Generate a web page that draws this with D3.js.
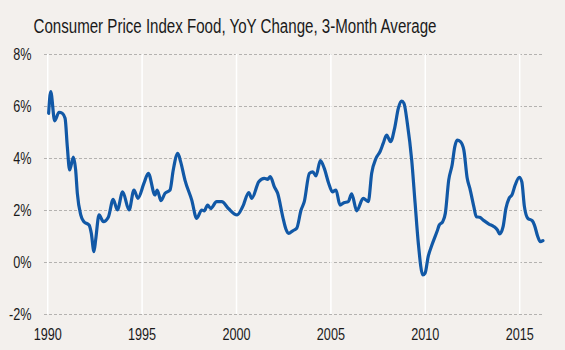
<!DOCTYPE html>
<html>
<head>
<meta charset="utf-8">
<script src="https://cdn.jsdelivr.net/npm/d3@7"></script>
<style>
    body { margin: 0; background: #f3f0ed; }
    svg { display: block; }
    text { font-family: "Liberation Sans Narrow", "Arial Narrow", "Liberation Sans", sans-serif; fill: #1a1a1a; }
</style>
</head>
<body>
<svg class="chart" width="565" height="350"></svg>
<script>
var titleText = 'Consumer Price Index Food, YoY Change, 3-Month Average';

// decimal year, YoY % change
var years = [
    1990.05, 1990.16, 1990.37, 1990.6, 1990.77, 1990.92, 1991.04, 1991.16, 1991.36, 1991.48,
    1991.57, 1991.75, 1991.92, 1992.19, 1992.31, 1992.45, 1992.54, 1992.72, 1992.95, 1993.21,
    1993.47, 1993.69, 1993.97, 1994.31, 1994.57, 1994.78, 1995.1, 1995.33, 1995.68, 1995.8,
    1996.0, 1996.21, 1996.48, 1996.65, 1996.89, 1997.04, 1997.27, 1997.63, 1997.89, 1998.16,
    1998.29, 1998.47, 1998.63, 1998.95, 1999.22, 1999.57, 2000.03, 2000.33, 2000.65, 2000.81,
    2001.18, 2001.47, 2001.65, 2001.79, 2002.0, 2002.18, 2002.45, 2002.62, 2002.76, 2002.98,
    2003.19, 2003.42, 2003.59, 2003.86, 2004.04, 2004.21, 2004.44, 2004.65, 2004.88, 2005.08,
    2005.27, 2005.48, 2005.69, 2005.92, 2006.1, 2006.37, 2006.71, 2006.98, 2007.16, 2007.39,
    2007.6, 2007.77, 2007.95, 2008.16, 2008.39, 2008.57, 2008.75, 2008.87, 2009.05, 2009.28,
    2009.46, 2009.63, 2009.87, 2009.99, 2010.15, 2010.35, 2010.62, 2010.74, 2010.92, 2011.06,
    2011.24, 2011.42, 2011.56, 2011.69, 2011.86, 2012.04, 2012.22, 2012.36, 2012.57, 2012.7,
    2012.88, 2013.11, 2013.37, 2013.64, 2013.82, 2013.94, 2014.12, 2014.27, 2014.44, 2014.59,
    2014.76, 2014.98, 2015.11, 2015.25, 2015.43, 2015.66, 2015.78, 2015.96, 2016.09, 2016.23
];
var values = [
    5.72, 6.55, 5.43, 5.76, 5.72, 5.53, 4.43, 3.54, 4.03, 3.54,
    2.64, 1.81, 1.55, 1.42, 1.1, 0.4, 0.85, 1.81, 1.55, 1.72,
    2.41, 2.0, 2.7, 2.0, 2.77, 2.45, 3.03, 3.41, 2.58, 2.77,
    2.36, 2.64, 2.77, 3.54, 4.18, 3.86, 3.15, 2.38, 1.68, 2.0,
    1.97, 2.19, 2.06, 2.32, 2.32, 2.06, 1.81, 2.13, 2.67, 2.45,
    3.09, 3.22, 3.18, 3.28, 2.9, 2.64, 1.74, 1.26, 1.1, 1.2,
    1.3, 2.0, 2.32, 3.41, 3.47, 3.31, 3.9, 3.6, 3.03, 2.7,
    2.77, 2.19, 2.28, 2.32, 2.62, 1.97, 2.45, 2.32, 3.41, 3.99,
    4.24, 4.56, 4.88, 4.63, 5.2, 5.91, 6.19, 6.1, 5.33, 3.92,
    2.26, 0.72, -0.5, -0.43, 0.2, 0.65, 1.17, 1.42, 1.55, 1.87,
    3.15, 3.73, 4.43, 4.69, 4.63, 4.31, 3.22, 2.83, 2.13, 1.74,
    1.72, 1.59, 1.46, 1.36, 1.23, 1.08, 1.36, 2.06, 2.45, 2.58,
    2.96, 3.26, 3.09, 2.13, 1.68, 1.59, 1.42, 0.97, 0.78, 0.82
];

var xTicks = [1990, 1995, 2000, 2005, 2010, 2015];
var yTicks = [-2, 0, 2, 4, 6, 8];

var svg = d3.select('.chart');
var squeeze = 0.79; // condensed look for the tick labels

var xScale = d3.scaleLinear().domain([1990, 2016.25]).range([47.7, 543.3]);
var yScale = d3.scaleLinear().domain([-2, 8]).range([314, 54]);

var lineData = years.map(function(y, i) {
    return { year: y, value: values[i] };
});

// title, squeezed to the reference width
svg.append('text')
    .attr('x', 33.5)
    .attr('y', 33)
    .attr('textLength', 403)
    .attr('lengthAdjust', 'spacingAndGlyphs')
    .style('font-size', '20px')
    .text(titleText);

// horizontal dashed gridlines
svg.append('g')
    .selectAll('line')
    .data(yTicks)
    .join('line')
    .attr('x1', 44)
    .attr('x2', 543)
    .attr('y1', function(d) { return yScale(d) + 0.5; })
    .attr('y2', function(d) { return yScale(d) + 0.5; })
    .style('stroke', '#b4b2b0')
    .style('stroke-width', 1)
    .style('stroke-dasharray', '3,2');

// vertical white gridlines
svg.append('g')
    .selectAll('line')
    .data(xTicks)
    .join('line')
    .attr('x1', function(d) { return xScale(d); })
    .attr('x2', function(d) { return xScale(d); })
    .attr('y1', yScale(8))
    .attr('y2', yScale(-2))
    .style('stroke', '#ffffff')
    .style('stroke-width', 1.5);

// y labels
svg.append('g')
    .selectAll('text')
    .data(yTicks)
    .join('text')
    .attr('transform', function(d) {
        return 'translate(31.5,' + yScale(d) + ') scale(' + squeeze + ',1)';
    })
    .attr('dy', '0.36em')
    .attr('text-anchor', 'end')
    .style('font-size', '16px')
    .text(function(d) { return d + '%'; });

// x labels
svg.append('g')
    .selectAll('text')
    .data(xTicks)
    .join('text')
    .attr('transform', function(d) {
        return 'translate(' + xScale(d) + ',340) scale(' + squeeze + ',1)';
    })
    .attr('text-anchor', 'middle')
    .style('font-size', '16px')
    .text(function(d) { return d; });

// the line
var lineGenerator = d3.line()
    .x(function(d) { return xScale(d.year); })
    .y(function(d) { return yScale(d.value); })
    .curve(d3.curveMonotoneX);

svg.append('path')
    .datum(lineData)
    .attr('d', lineGenerator)
    .style('fill', 'none')
    .style('stroke', '#1158a6')
    .style('stroke-width', 3.2)
    .style('stroke-linejoin', 'round')
    .style('stroke-linecap', 'round');
</script>
</body>
</html>
